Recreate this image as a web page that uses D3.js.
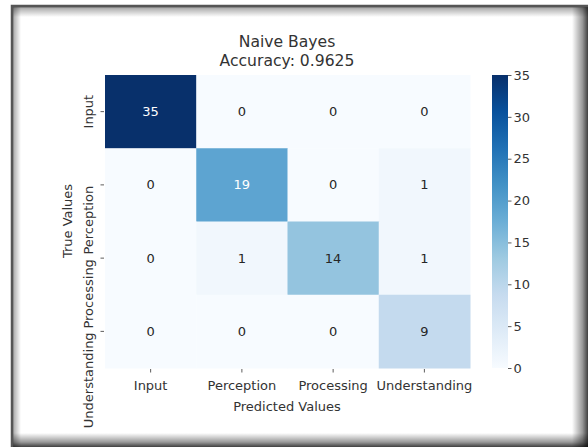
<!DOCTYPE html>
<html>
<head>
<meta charset="utf-8">
<script src="https://cdn.jsdelivr.net/npm/d3@7"></script>
<style>
  html, body { margin: 0; padding: 0; background: #fff; }
  svg { display: block; font-family: "DejaVu Sans", sans-serif; }
</style>
</head>
<body>
<svg id="chart" width="588" height="447"></svg>
<script>
// Confusion matrix for the Naive Bayes classifier
const classes = ["Input", "Perception", "Processing", "Understanding"];
const rowInput = [35, 0, 0, 0];
const rowPerception = [0, 19, 0, 1];
const rowProcessing = [0, 1, 14, 1];
const rowUnderstanding = [0, 0, 0, 9];
const colorbarTicks = [0, 5, 10, 15, 20, 25, 30, 35];
const modelName = "Naive Bayes";

// "Blues" palette, interpolated linearly between its nine anchor colours
const bluesAnchors = ["#f7fbff", "#deebf7", "#c6dbef", "#9ecae1", "#6baed6",
                      "#4292c6", "#2171b5", "#08519c", "#08306b"];

const matrix = [rowInput, rowPerception, rowProcessing, rowUnderstanding];
const total = d3.sum(matrix.flat());
const correct = d3.sum(matrix.map((r, i) => r[i]));
const accuracy = correct / total;

const svg = d3.select("#chart");
const W = 588, H = 447;
const textColor = "#333";

// ---- photo frame with inner shadow ----
const defs = svg.append("defs");
function grad(id, x1, y1, x2, y2, stops) {
  const g = defs.append("linearGradient").attr("id", id)
    .attr("x1", x1).attr("y1", y1).attr("x2", x2).attr("y2", y2);
  stops.forEach(s => g.append("stop").attr("offset", s[0])
    .attr("stop-color", "#000").attr("stop-opacity", s[1]));
}
grad("shL", 0, 0, 1, 0, [[0, 0.65], [0.3, 0.3], [1, 0]]);
grad("shT", 0, 0, 0, 1, [[0, 0.65], [0.3, 0.3], [1, 0]]);
grad("shR", 1, 0, 0, 0, [[0, 0.75], [0.35, 0.4], [1, 0]]);
grad("shB", 0, 1, 0, 0, [[0, 0.75], [0.35, 0.4], [1, 0]]);

const fx0 = 11, fy0 = 5, fx1 = 588, fy1 = 447;
svg.append("rect").attr("x", 0).attr("y", 0).attr("width", W).attr("height", H).attr("fill", "#fff");
const frame = svg.append("g");
frame.append("rect").attr("x", fx0).attr("y", fy0).attr("width", 10).attr("height", fy1 - fy0).attr("fill", "url(#shL)");
frame.append("rect").attr("x", fx0).attr("y", fy0).attr("width", fx1 - fx0).attr("height", 12).attr("fill", "url(#shT)");
frame.append("rect").attr("x", fx1 - 16).attr("y", fy0).attr("width", 16).attr("height", fy1 - fy0).attr("fill", "url(#shR)");
frame.append("rect").attr("x", fx0).attr("y", fy1 - 14).attr("width", fx1 - fx0).attr("height", 14).attr("fill", "url(#shB)");
frame.append("rect").attr("x", fx0 + 1).attr("y", fy0 + 1).attr("width", fx1 - fx0 + 4).attr("height", fy1 - fy0 + 4)
  .attr("fill", "none").attr("stroke", "#555").attr("stroke-width", 2.5);

// ---- heatmap ----
const x = d3.scaleBand().domain(classes).range([105, 470]);
const y = d3.scaleBand().domain(classes).range([75, 368]);
const blues = d3.piecewise(d3.interpolateRgb, bluesAnchors);
const color = d3.scaleSequential(blues).domain([0, 35]);

const cells = [];
matrix.forEach((row, i) => row.forEach((v, j) => cells.push({ t: classes[i], p: classes[j], v })));

svg.append("g").selectAll("rect").data(cells).join("rect")
  .attr("x", d => x(d.p)).attr("y", d => y(d.t))
  .attr("width", x.bandwidth() + 0.5).attr("height", y.bandwidth() + 0.5)
  .attr("fill", d => color(d.v));

function lum(c) {
  const rgb = d3.rgb(c);
  const f = v => { v /= 255; return v <= 0.03928 ? v / 12.92 : Math.pow((v + 0.055) / 1.055, 2.4); };
  return 0.2126 * f(rgb.r) + 0.7152 * f(rgb.g) + 0.0722 * f(rgb.b);
}

svg.append("g").selectAll("text").data(cells).join("text")
  .attr("x", d => x(d.p) + x.bandwidth() / 2)
  .attr("y", d => y(d.t) + y.bandwidth() / 2)
  .attr("text-anchor", "middle").attr("dominant-baseline", "central")
  .attr("font-size", 13)
  .attr("fill", d => lum(color(d.v)) > 0.408 ? "#262626" : "#fff")
  .text(d => d.v);

// x axis
const xAxis = svg.append("g").attr("transform", "translate(0,369)")
  .call(d3.axisBottom(x).tickSize(3.5).tickPadding(6));
xAxis.select(".domain").remove();
xAxis.selectAll("line").attr("stroke", textColor).attr("stroke-width", 0.8);
xAxis.selectAll("text").attr("font-size", 13).attr("fill", textColor)
  .attr("font-family", "DejaVu Sans").attr("dy", "0.85em");

// y axis: vertical labels; the first sits centred on its tick, the
// longer ones hang down from their tick
const yAxis = svg.append("g").attr("transform", "translate(104,0)")
  .call(d3.axisLeft(y).tickSize(3.5).tickPadding(0));
yAxis.select(".domain").remove();
yAxis.selectAll("line").attr("stroke", textColor).attr("stroke-width", 0.8);
yAxis.selectAll("text").attr("font-size", 13).attr("fill", textColor)
  .attr("font-family", "DejaVu Sans")
  .attr("x", 0).attr("dy", null)
  .attr("text-anchor", (d, i) => i === 0 ? "middle" : "end")
  .attr("transform", (d, i) => `translate(-16,${i === 0 ? 0 : 1}) rotate(-90)`)
  .attr("dominant-baseline", "central");

// axis titles
svg.append("text").attr("x", 287).attr("y", 406)
  .attr("text-anchor", "middle").attr("dominant-baseline", "central")
  .attr("font-size", 13).attr("fill", textColor).text("Predicted Values");
svg.append("text").attr("transform", "translate(67,221) rotate(-90)")
  .attr("text-anchor", "middle").attr("dominant-baseline", "central")
  .attr("font-size", 13).attr("fill", textColor).text("True Values");

// title
svg.append("text").attr("x", 287).attr("y", 42)
  .attr("text-anchor", "middle").attr("dominant-baseline", "central")
  .attr("font-size", 15.6).attr("fill", textColor).text(modelName);
svg.append("text").attr("x", 287).attr("y", 61)
  .attr("text-anchor", "middle").attr("dominant-baseline", "central")
  .attr("font-size", 15.6).attr("fill", textColor).text("Accuracy: " + accuracy.toFixed(4));

// ---- colorbar ----
const cb = d3.scaleLinear().domain([0, 35]).range([368, 75]);
const cbGrad = defs.append("linearGradient").attr("id", "cbGrad")
  .attr("x1", 0).attr("y1", 1).attr("x2", 0).attr("y2", 0);
bluesAnchors.forEach((c, i) => cbGrad.append("stop")
  .attr("offset", i / (bluesAnchors.length - 1)).attr("stop-color", c));
svg.append("rect").attr("x", 492).attr("y", 75).attr("width", 16).attr("height", 293)
  .attr("fill", "url(#cbGrad)");
const cbAxis = svg.append("g").attr("transform", "translate(508,0)")
  .call(d3.axisRight(cb).tickValues(colorbarTicks).tickSize(3.5).tickPadding(2));
cbAxis.select(".domain").remove();
cbAxis.selectAll("line").attr("stroke", textColor).attr("stroke-width", 0.8);
cbAxis.selectAll("text").attr("font-size", 13).attr("fill", textColor)
  .attr("font-family", "DejaVu Sans");
</script>
</body>
</html>
